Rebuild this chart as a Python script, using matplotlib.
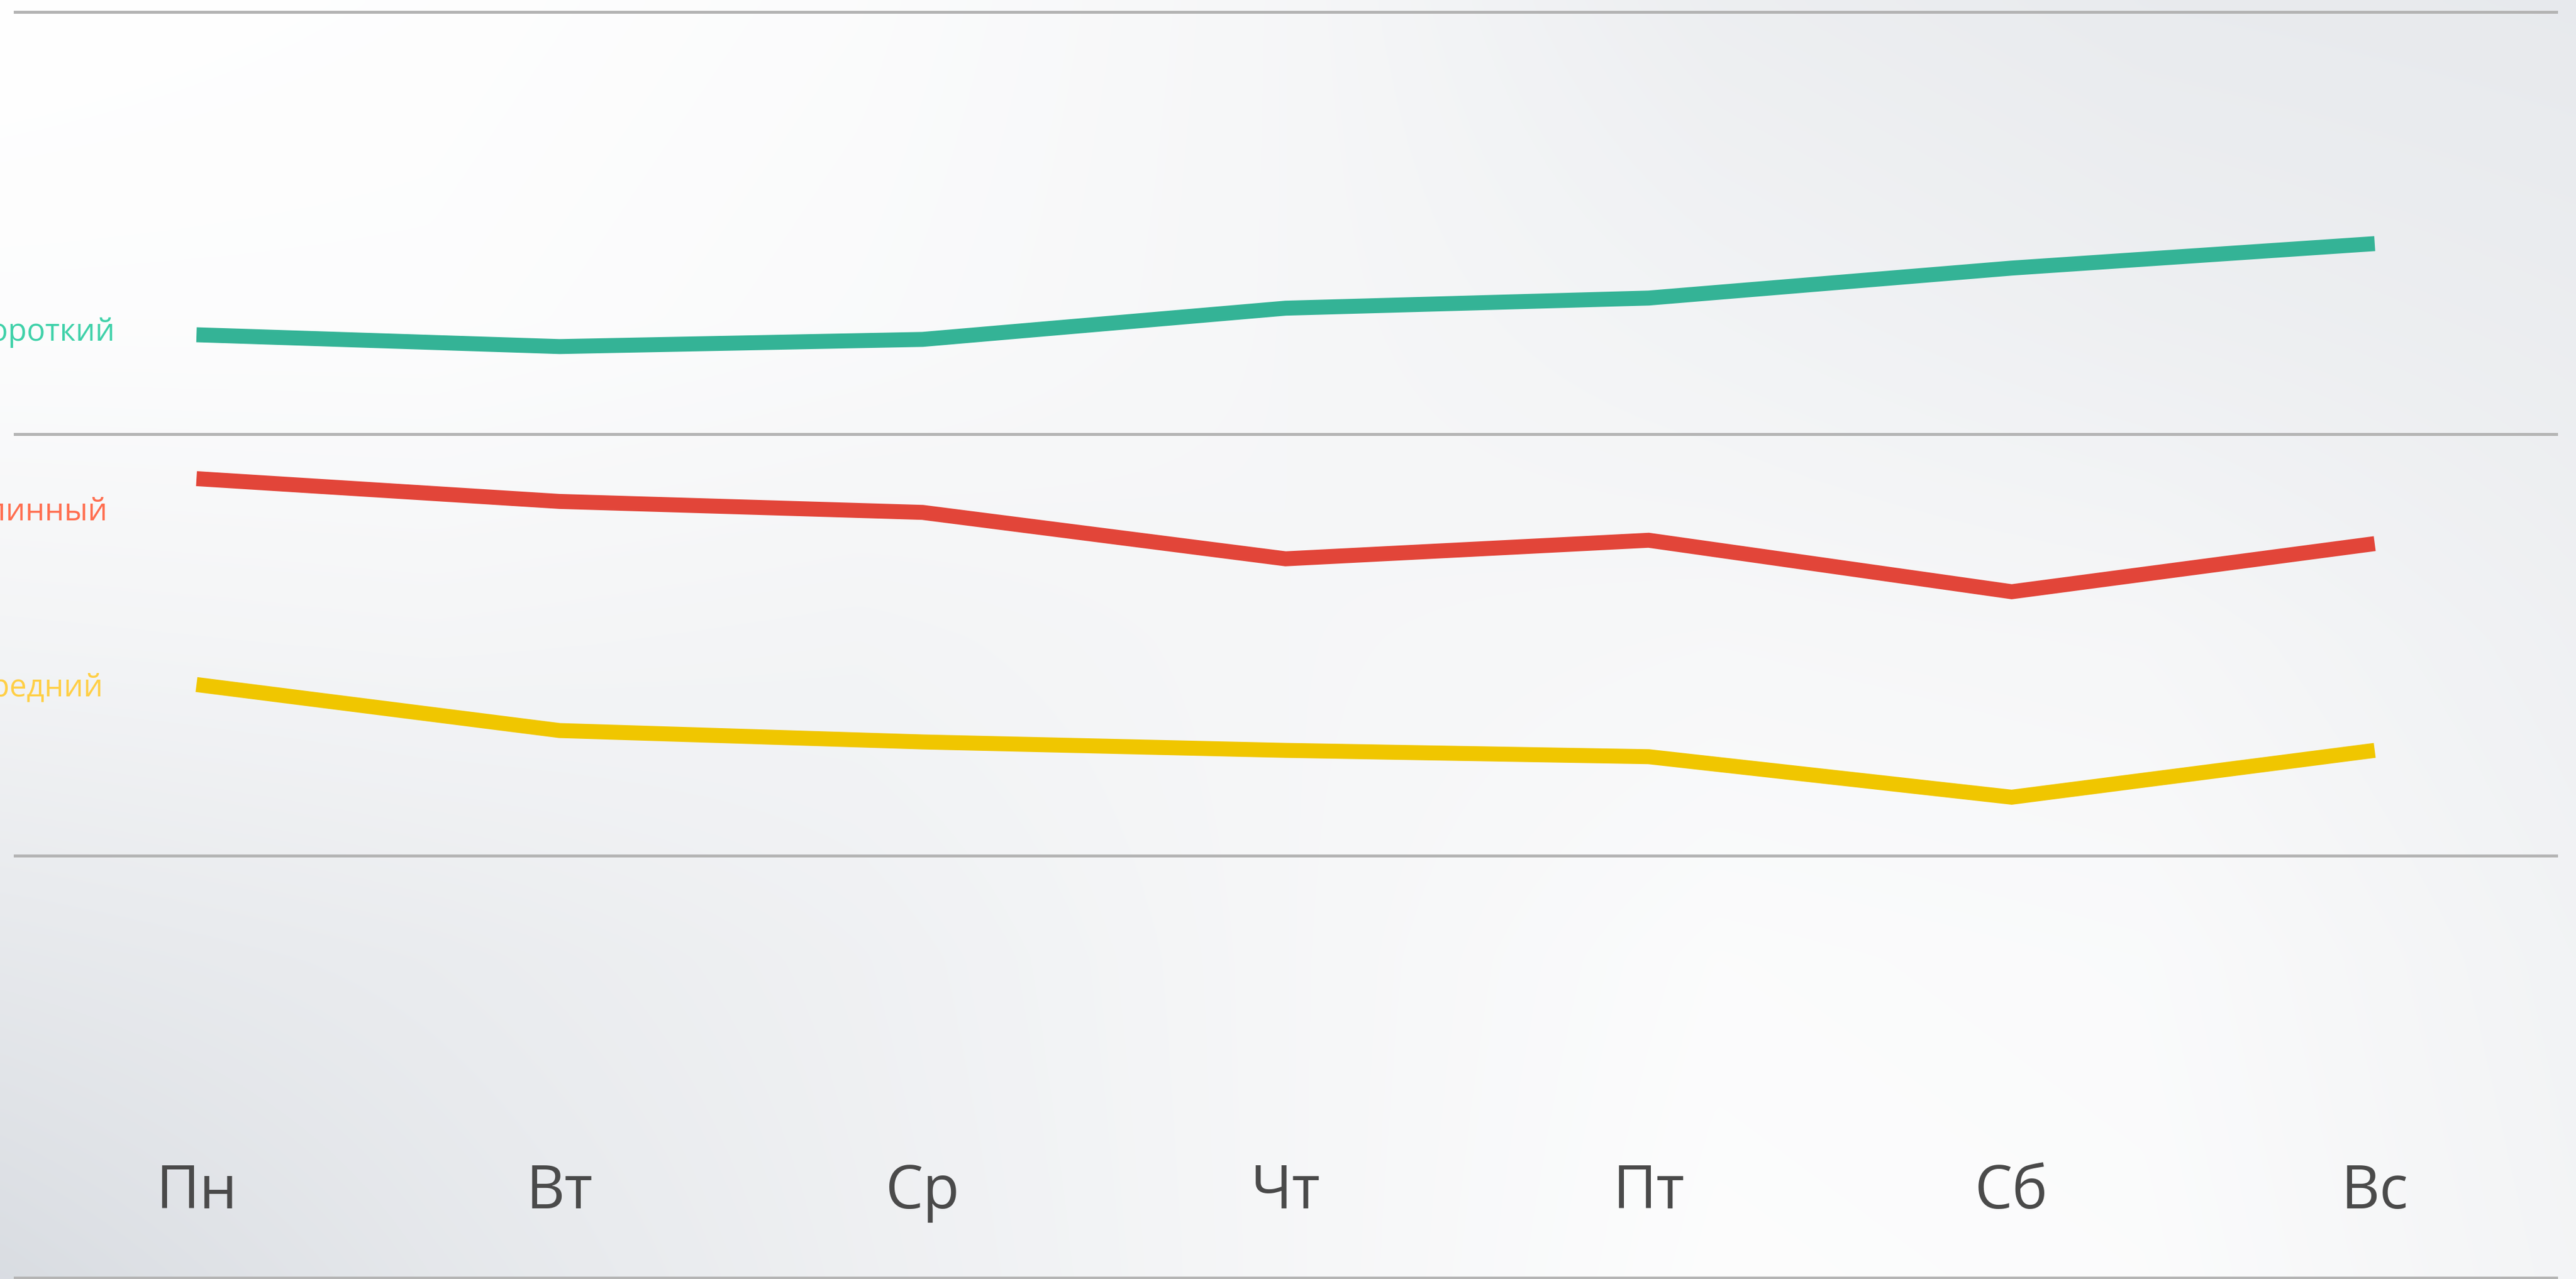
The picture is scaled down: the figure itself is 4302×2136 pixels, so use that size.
import numpy as np
import matplotlib
matplotlib.use("Agg")
import matplotlib.pyplot as plt

# ---- data ----
days = ["Пн", "Вт", "Ср", "Чт", "Пт", "Сб", "Вс"]
series_names = ["Короткий", "Длинный", "Средний"]
short_vals = [22.35, 22.07, 22.24, 22.98, 23.22, 23.93, 24.51]
long_vals = [18.94, 18.40, 18.14, 17.04, 17.48, 16.26, 17.40]
medium_vals = [14.06, 12.97, 12.70, 12.50, 12.35, 11.39, 12.50]
grid_values = [0, 10, 20, 30]

line_colors = ["#34b396", "#e24539", "#f0c600"]
label_colors = ["#3fd1a9", "#ff6e50", "#ffcf45"]

FONT = ["Open Sans", "DejaVu Sans"]
plt.rcParams["font.family"] = FONT

W, H, DPI = 4302, 2136, 200
fig = plt.figure(figsize=(W / DPI, H / DPI), dpi=DPI)

# ---- soft light backdrop ----
coarse = np.array([
    [255, 254, 252, 248, 241, 238, 237],
    [253, 253, 251, 248, 245, 242, 240],
    [246, 247, 246, 248, 249, 248, 243],
    [236, 239, 243, 248, 252, 251, 245],
    [226, 235, 242, 248, 253, 252, 246],
], dtype=float)


def upsample(c, ny, nx):
    cy, cx = c.shape
    xs, ys = np.linspace(0, 1, cx), np.linspace(0, 1, cy)
    fx, fy = np.linspace(0, 1, nx), np.linspace(0, 1, ny)
    tmp = np.array([np.interp(fx, xs, row) for row in c])
    return np.array([np.interp(fy, ys, tmp[:, j]) for j in range(nx)]).T


lum = upsample(coarse, 220, 440)
shade = 255 - lum
rgb = np.stack([lum - 0.30 * shade, lum - 0.18 * shade, lum], axis=-1)
rgb = np.clip(rgb, 0, 255) / 255.0
bg = fig.add_axes([0, 0, 1, 1], zorder=-1)
bg.imshow(rgb, aspect="auto", interpolation="bicubic", extent=[0, 1, 0, 1])
bg.set_axis_off()

# ---- main chart ----
ax = fig.add_axes([25 / W, 0, (4269 - 25) / W, 1])
ax.patch.set_alpha(0)
px_per_unit = (2134 - 20) / 30
ax.set_ylim(0 - 2 / px_per_unit, 30 + 20 / px_per_unit)
ax.set_xlim(-0.5, len(days) - 0.5)

for v in grid_values:
    ax.axhline(v, color="#b4b4b4", lw=1.8, zorder=1, clip_on=False)

x = np.arange(len(days))
for vals, col in zip([short_vals, long_vals, medium_vals], line_colors):
    ax.plot(x, vals, color=col, lw=9, solid_joinstyle="miter",
            solid_capstyle="butt", zorder=3)

for i, d in enumerate(days):
    ax.text(i, 1.65, d, ha="center", va="baseline", fontsize=36,
            color="#4a4a4a", family=FONT)

for s in ax.spines.values():
    s.set_visible(False)
ax.set_xticks([])
ax.set_yticks([])

# series names on the left edge
label_pos = [(192, 569), (180, 868), (173, 1163)]
for name, col, (lx, ly) in zip(series_names, label_colors, label_pos):
    fig.text(lx / W, 1 - ly / H, name, ha="right", va="baseline",
             fontsize=18.5, color=col, family=FONT)

fig.savefig("out.png", dpi=DPI)
